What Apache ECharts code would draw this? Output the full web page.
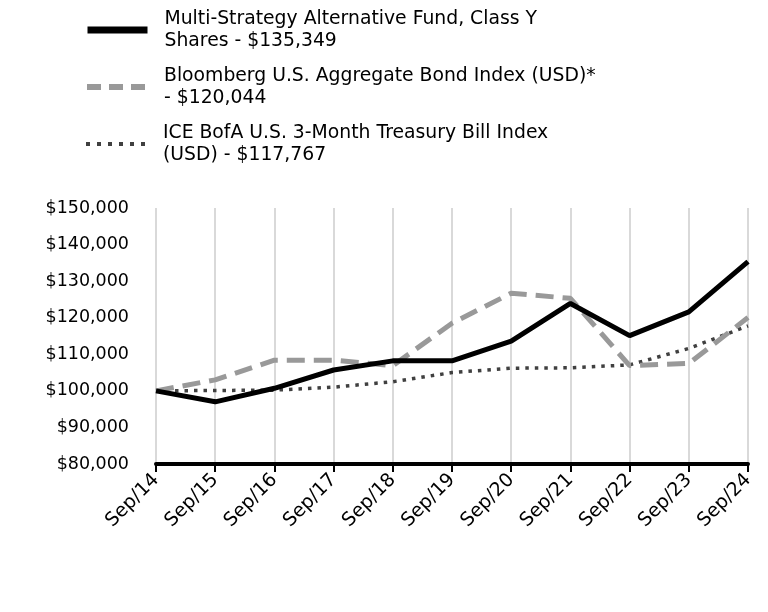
<!DOCTYPE html>
<html>
<head>
<meta charset="utf-8">
<script src="https://cdn.jsdelivr.net/npm/echarts@6/dist/echarts.min.js"></script>
<style>html,body{margin:0;padding:0;background:#fff}#c{width:768px;height:612px}</style>
</head>
<body>
<div id="c"></div>
<script>
const categories = ['Sep/14','Sep/15','Sep/16','Sep/17','Sep/18','Sep/19','Sep/20','Sep/21','Sep/22','Sep/23','Sep/24'];
const fundName = 'Multi-Strategy Alternative Fund, Class Y\nShares - $135,349';
const bondName = 'Bloomberg U.S. Aggregate Bond Index (USD)*\n- $120,044';
const tbillName = 'ICE BofA U.S. 3-Month Treasury Bill Index\n(USD) - $117,767';
const fundValues = [100000, 97000, 100700, 105700, 108200, 108200, 113600, 123900, 115100, 121600, 135349];
const bondValues = [100000, 103000, 108400, 108400, 106900, 118500, 126700, 125300, 106900, 107500, 120044];
const tbillValues = [100000, 100100, 100200, 101000, 102500, 105000, 106200, 106300, 107100, 111600, 117767];
const yTicks = {min: 80000, max: 150000, interval: 10000};

const FONT = 'DejaVu Sans';
const chart = echarts.init(document.getElementById('c'), null, {renderer: 'canvas'});
function legendFor(name, top, lineStyle) {
  return {
    data: [name], left: 84, top: top, padding: 0, orient: 'vertical',
    itemWidth: 60, itemHeight: 14,
    itemStyle: {opacity: 0},
    lineStyle: lineStyle,
    textStyle: {fontFamily: FONT, fontSize: 18.8, color: '#000', lineHeight: 22, padding: [22, 0, 0, 12]}
  };
}
chart.setOption({
  animation: false,
  legend: [
    legendFor(fundName, -3, {width: 7, color: '#000', type: 'solid'}),
    legendFor(bondName, 54, {width: 6, color: '#999999', type: [14, 8]}),
    legendFor(tbillName, 111, {width: 4, color: '#404040', type: [4, 7]})
  ],
  grid: {left: 156, right: 20, top: 208, bottom: 148, containLabel: false},
  xAxis: {
    type: 'category', data: categories, boundaryGap: false,
    axisLine: {lineStyle: {color: '#000', width: 4}},
    axisTick: {show: true, length: 8, lineStyle: {color: '#000', width: 2}},
    axisLabel: {rotate: 45, fontFamily: FONT, fontSize: 19, color: '#000', margin: 13},
    splitLine: {show: true, lineStyle: {color: '#d9d9d9', width: 2}}
  },
  yAxis: {
    type: 'value', min: yTicks.min, max: yTicks.max, interval: yTicks.interval,
    axisLine: {show: false}, axisTick: {show: false}, splitLine: {show: false},
    axisLabel: {fontFamily: FONT, fontSize: 17.5, color: '#000', margin: 27,
      formatter: v => '$' + v.toLocaleString('en-US')}
  },
  series: [
    {name: fundName, type: 'line', data: fundValues, symbol: 'none', z: 5,
     lineStyle: {color: '#000', width: 5}, itemStyle: {color: '#000'}},
    {name: bondName, type: 'line', data: bondValues, symbol: 'none', z: 4,
     lineStyle: {color: '#999999', width: 5, type: [18, 9]}, itemStyle: {color: '#999999'}},
    {name: tbillName, type: 'line', data: tbillValues, symbol: 'none', z: 3,
     lineStyle: {color: '#404040', width: 3.5, type: [3.5, 6]}, itemStyle: {color: '#404040'}}
  ]
});
</script>
</body>
</html>
